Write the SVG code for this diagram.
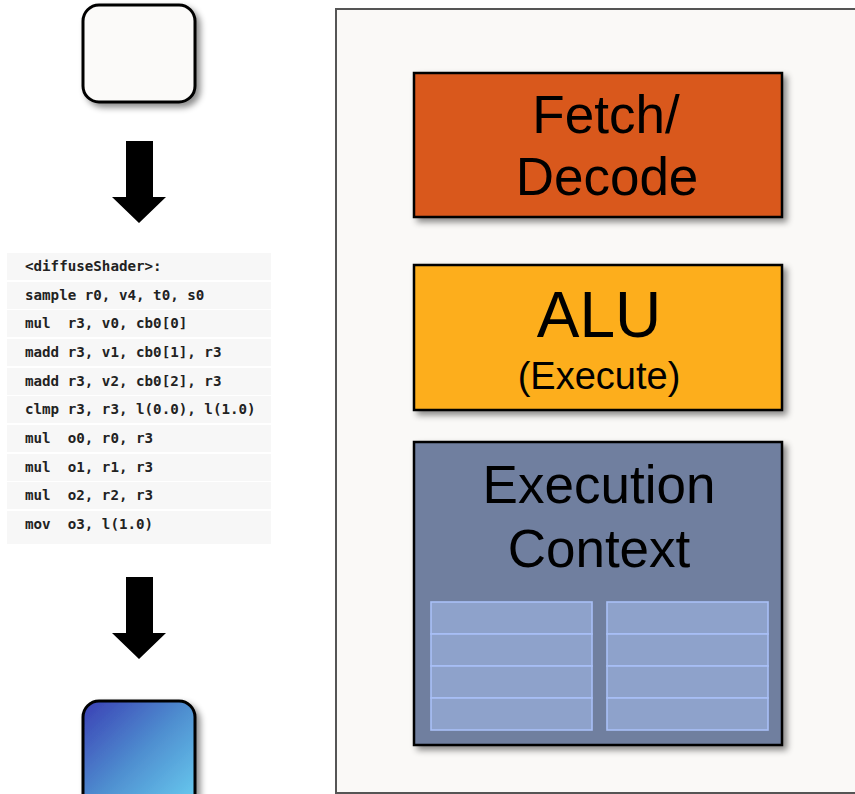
<svg xmlns="http://www.w3.org/2000/svg" width="855" height="794" viewBox="0 0 855 794">
<defs>
<filter id="sh" x="-10%" y="-10%" width="130%" height="130%">
<feDropShadow dx="4" dy="4" stdDeviation="3" flood-color="#000" flood-opacity="0.45"/>
</filter>
<linearGradient id="blue" x1="0" y1="0" x2="1" y2="1">
<stop offset="0" stop-color="#3a3fb4"/>
<stop offset="0.5" stop-color="#4f8fd0"/>
<stop offset="1" stop-color="#6ad0f2"/>
</linearGradient>
</defs>
<style>
.big{font-family:"Liberation Sans",Arial,sans-serif;fill:#000;text-anchor:middle}
.code{font-family:"DejaVu Sans Mono","Liberation Mono",monospace;font-weight:bold;font-size:14.2px;fill:#222;white-space:pre}
.row{fill:#f7f7f7}
.cell{fill:#8ea2cb;stroke:#a9c0f7;stroke-width:1.6}
.arrow{fill:#000}
</style>
<rect width="855" height="794" fill="#fff"/>

<g id="input-box">
<rect x="83" y="5" width="112" height="97" rx="16" fill="#fbfaf9" stroke="#000" stroke-width="3" filter="url(#sh)"/>
</g>

<g id="connectors">
<path class="arrow" d="M126 141 H153 V197 H166 L139 223 L112 197 H126 Z"/>
<path class="arrow" d="M126 577 H153 V633 H166 L139 659 L112 633 H126 Z"/>
</g>

<g id="shader-code">
<rect class="row" x="7" y="253" width="264" height="27"/>
<rect class="row" x="7" y="282" width="264" height="27"/>
<rect class="row" x="7" y="310" width="264" height="27"/>
<rect class="row" x="7" y="339" width="264" height="27"/>
<rect class="row" x="7" y="368" width="264" height="27"/>
<rect class="row" x="7" y="396" width="264" height="27"/>
<rect class="row" x="7" y="425" width="264" height="27"/>
<rect class="row" x="7" y="454" width="264" height="27"/>
<rect class="row" x="7" y="482" width="264" height="27"/>
<rect class="row" x="7" y="511" width="264" height="33"/>
<text class="code" x="25" y="271">&lt;diffuseShader&gt;:</text>
<text class="code" x="25" y="300">sample r0, v4, t0, s0</text>
<text class="code" x="25" y="328">mul  r3, v0, cb0[0]</text>
<text class="code" x="25" y="357">madd r3, v1, cb0[1], r3</text>
<text class="code" x="25" y="386">madd r3, v2, cb0[2], r3</text>
<text class="code" x="25" y="414">clmp r3, r3, l(0.0), l(1.0)</text>
<text class="code" x="25" y="443">mul  o0, r0, r3</text>
<text class="code" x="25" y="472">mul  o1, r1, r3</text>
<text class="code" x="25" y="500">mul  o2, r2, r3</text>
<text class="code" x="25" y="529">mov  o3, l(1.0)</text>
</g>

<g id="output-box">
<rect x="83" y="701" width="112" height="110" rx="16" fill="url(#blue)" stroke="#000" stroke-width="3" filter="url(#sh)"/>
</g>

<g id="core-panel">
<rect x="336" y="9" width="530" height="784" fill="#faf9f7" stroke="#555" stroke-width="2"/>
</g>

<g id="fetch-decode">
<rect x="414" y="73" width="368" height="144" fill="#d9581e" stroke="#000" stroke-width="2.5" filter="url(#sh)"/>
<text class="big" x="606" y="133" font-size="53">Fetch/</text>
<text class="big" x="607" y="195" font-size="53">Decode</text>
</g>

<g id="alu">
<rect x="414" y="265" width="368" height="145" fill="#fdae1a" stroke="#000" stroke-width="2.5" filter="url(#sh)"/>
<text class="big" x="599" y="337" font-size="64">ALU</text>
<text class="big" x="599" y="389" font-size="38">(Execute)</text>
</g>

<g id="execution-context">
<rect x="414" y="442" width="368" height="303" fill="#6f7f9f" stroke="#000" stroke-width="2.5" filter="url(#sh)"/>
<text class="big" x="599" y="503" font-size="53">Execution</text>
<text class="big" x="599" y="567" font-size="53">Context</text>
<rect class="cell" x="431" y="602" width="161" height="32"/>
<rect class="cell" x="431" y="634" width="161" height="32"/>
<rect class="cell" x="431" y="666" width="161" height="32"/>
<rect class="cell" x="431" y="698" width="161" height="32"/>
<rect class="cell" x="607" y="602" width="161" height="32"/>
<rect class="cell" x="607" y="634" width="161" height="32"/>
<rect class="cell" x="607" y="666" width="161" height="32"/>
<rect class="cell" x="607" y="698" width="161" height="32"/>
</g>
</svg>
